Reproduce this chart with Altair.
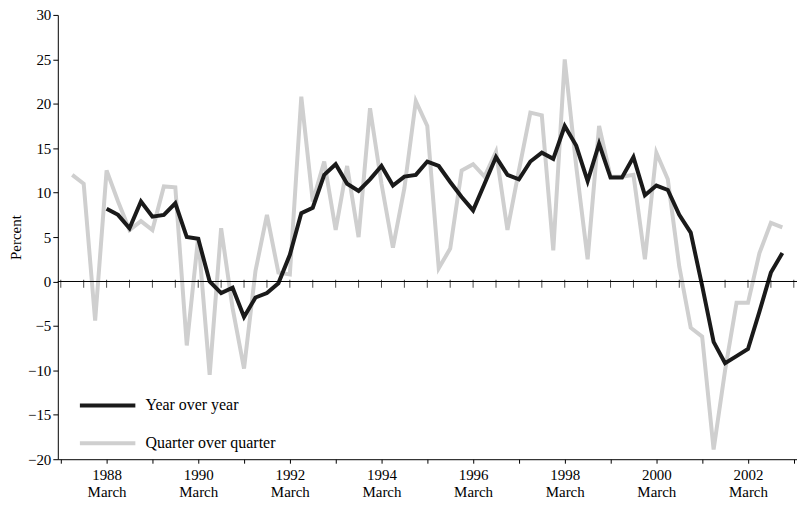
import pandas as pd
import altair as alt

# quarterly, gray starts 1987 Q2, black starts 1988 Q1
qoq = [12, 11, -4.4,
       12.5, 9, 5.8, 6.8,
       5.8, 10.7, 10.6, -7.2,
       5, -10.5, 6, -3,
       -9.8, 1.2, 7.5, 1,
       0.8, 20.8, 9, 13.5,
       5.8, 13, 5, 19.5,
       11, 3.8, 10.5, 20.3,
       17.5, 1.5, 3.7, 12.5,
       13.2, 11.8, 14.6, 5.8,
       12.5, 19, 18.7, 3.5,
       25, 13, 2.5, 17.5,
       11.8, 11.8, 12, 2.5,
       14.5, 11.5, 1.7, -5.2,
       -6.2, -18.9, -10, -2.4,
       -2.4, 3.2, 6.6, 6.1]
yoy = [8.2, 7.5, 6, 9,
       7.3, 7.5, 8.8, 5,
       4.8, 0, -1.3, -0.7,
       -4, -1.8, -1.3, -0.2,
       3, 7.7, 8.3, 12,
       13.2, 11, 10.2, 11.5,
       13, 10.8, 11.8, 12,
       13.5, 13, 11.2, 9.5,
       8, 11, 14, 12,
       11.5, 13.5, 14.5, 13.8,
       17.5, 15.3, 11.3, 15.5,
       11.7, 11.7, 14, 9.7,
       10.8, 10.3, 7.5, 5.5,
       -0.5, -6.8, -9.2, -8.4,
       -7.6, -3.4, 1, 3.2]

rows = []
for i, v in enumerate(qoq):
    rows.append({"t": 1987.25 + i * 0.25, "v": v, "s": "Quarter over quarter"})
for i, v in enumerate(yoy):
    rows.append({"t": 1988 + i * 0.25, "v": v, "s": "Year over year"})
df = pd.DataFrame(rows)

FONT = "Liberation Serif"
xticks = [1987 + k * 0.5 for k in range(33)]
xscale = alt.Scale(domain=[1986.935, 2003.07], nice=False, zero=False)
yscale = alt.Scale(domain=[-20, 30], nice=False)

lines = alt.Chart(df).mark_line(strokeWidth=4).encode(
    x=alt.X("t:Q", scale=xscale, title=None,
            axis=alt.Axis(values=xticks, tickSize=4, grid=False, domainColor="black",
                          tickColor="black", labelFontSize=15, labelFont=FONT, labelColor="black",
                          labelExpr="datum.value % 2 == 0 ? [datum.value + '', 'March'] : ''",
                          labelPadding=4, labelLineHeight=17)),
    y=alt.Y("v:Q", scale=yscale, title="Percent",
            axis=alt.Axis(values=list(range(-20, 31, 5)), tickSize=5, grid=False,
                          domainColor="black", tickColor="black", labelFontSize=15,
                          labelFont=FONT, labelColor="black", titleFont=FONT,
                          titleFontSize=15, titleFontWeight="normal", titleColor="black",
                          titlePadding=4)),
    color=alt.Color("s:N", title=None,
                    scale=alt.Scale(domain=["Year over year", "Quarter over quarter"],
                                    range=["#1a1a1a", "#cfcfcf"]),
                    legend=alt.Legend(orient="none", legendX=20, legendY=362,
                                      symbolType="stroke", symbolStrokeWidth=4,
                                      symbolSize=3100, labelFont=FONT, labelFontSize=16,
                                      labelColor="black", rowPadding=-31, labelOffset=8)),
    order="t:Q",
)

zero = alt.Chart(pd.DataFrame({"z": [0]})).mark_rule(color="black", strokeWidth=1).encode(
    y=alt.Y("z:Q", scale=yscale))

zero_ticks = alt.Chart(pd.DataFrame({"t": xticks})).mark_tick(
    color="black", thickness=1, size=8, orient="vertical").encode(
    x=alt.X("t:Q", scale=xscale),
    y=alt.Y("z:Q", scale=yscale),
).transform_calculate(z="-0.25")

chart = alt.layer(lines, zero, zero_ticks).properties(
    width=742, height=446, autosize="none",
    padding={"left": 50, "top": 6, "right": 0, "bottom": 40},
).configure_view(stroke=None)

chart.save("out.html", embed_options={"renderer": "svg", "actions": False})
